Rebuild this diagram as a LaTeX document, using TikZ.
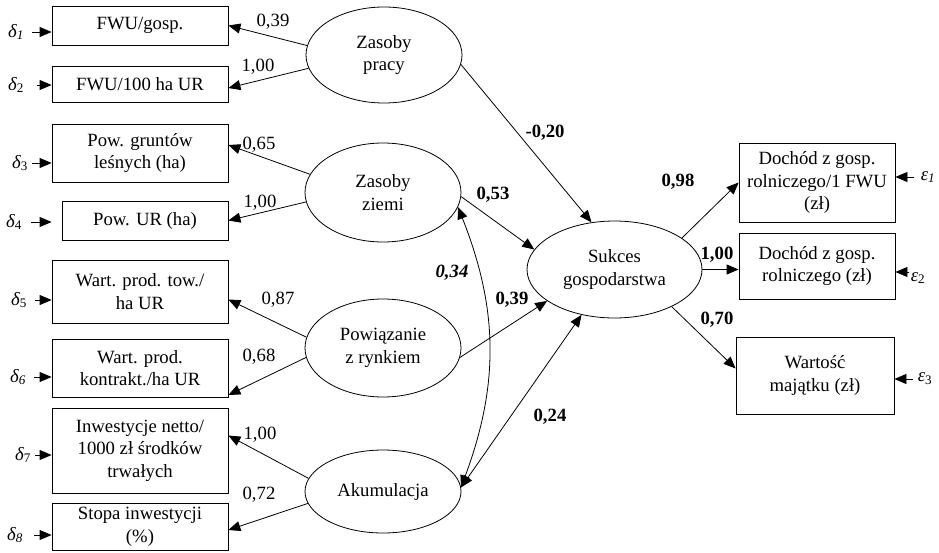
\documentclass[tikz,border=0pt]{standalone}
\usepackage{fontspec}
\setmainfont{Liberation Serif}
\usetikzlibrary{shapes.geometric,arrows.meta}

\newcommand{\diagfont}{\fontsize{18.7}{22.5}\selectfont}

\tikzset{
	obs/.style={draw, rectangle, align=center, inner sep=0pt},
	lat/.style={draw, ellipse, align=center, inner sep=0pt, minimum width=156pt},
	err/.style={inner sep=1pt},
	wt/.style={inner sep=0pt},
	pth/.style={inner sep=0pt, font=\diagfont\bfseries}
}

\begin{document}
\begin{tikzpicture}[x=1pt, y=-1pt, line width=0.8pt, >={Triangle[length=12pt,width=10pt]},
	font=\diagfont]
	\useasboundingbox (0,0) rectangle (939,552);

	% observed variables, left
	\node[obs, minimum width=176pt, minimum height=39pt] (fwug) at (140,25.5) {FWU/gosp.};
	\node[obs, minimum width=176pt, minimum height=36pt] (fwuha) at (140,84) {FWU/100 ha UR};
	\node[obs, minimum width=176pt, minimum height=58pt] (las) at (140,153) {Pow. gruntów\\leśnych (ha)};
	\node[obs, minimum width=166pt, minimum height=39pt] (ur) at (145,220.5) {Pow. UR (ha)};
	\node[obs, minimum width=176pt, minimum height=63pt] (tow) at (140,291.5) {Wart. prod. tow./\\ha UR};
	\node[obs, minimum width=176pt, minimum height=58pt] (kon) at (140,368) {Wart. prod.\\kontrakt./ha UR};
	\node[obs, minimum width=176pt, minimum height=85pt] (inw) at (140,450.5) {Inwestycje netto/\\1000 zł środków\\trwałych};
	\node[obs, minimum width=176pt, minimum height=47pt] (sto) at (140,527) {Stopa inwestycji\\(\%)};

	% observed variables, right
	\node[obs, minimum width=156pt, minimum height=79pt] (doch1) at (817,182.5) {Dochód z gosp.\\rolniczego/1 FWU\\(zł)};
	\node[obs, minimum width=156pt, minimum height=66pt] (doch2) at (817,266) {Dochód z gosp.\\rolniczego (zł)};
	\node[obs, minimum width=158pt, minimum height=77pt] (maj) at (815,375.5) {Wartość\\majątku (zł)};

	% latent variables
	\node[lat, minimum height=96pt] (zp) at (384,55) {Zasoby\\pracy};
	\node[lat, minimum height=99pt] (zz) at (383,192.5) {Zasoby\\ziemi};
	\node[lat, minimum height=98pt] (pr) at (383,348) {Powiązanie\\z rynkiem};
	\node[lat, minimum height=83pt] (ak) at (383,491.5) {Akumulacja};
	\node[lat, minimum width=175pt, minimum height=97pt] (su) at (614.5,269.5) {Sukces\\gospodarstwa};

	% error terms
	\node[err] (d1) at (16,32) {\textit{δ}\textsubscript{\textit{1}}};
	\node[err] (d2) at (16,85) {\textit{δ}\textsubscript{2}};
	\node[err] (d3) at (20,163) {\textit{δ}\textsubscript{3}};
	\node[err] (d4) at (14,222) {\textit{δ}\textsubscript{4}};
	\node[err] (d5) at (19,300) {\textit{δ}\textsubscript{5}};
	\node[err] (d6) at (18,377) {\textit{δ}\textsubscript{\textit{6}}};
	\node[err] (d7) at (23,455) {\textit{δ}\textsubscript{7}};
	\node[err] (d8) at (15,535) {\textit{δ}\textsubscript{\textit{8}}};
	\node[err] (e1) at (928,177) {\textit{ε}\textsubscript{\textit{1}}};
	\node[err] (e2) at (918,278) {\textit{ε}\textsubscript{2}};
	\node[err] (e3) at (925,379) {\textit{ε}\textsubscript{3}};

	\draw[->, shorten <=7pt] (d1) -- (d1 -| fwug.west);
	\draw[->, shorten <=12pt] (d2) -- (d2 -| fwuha.west);
	\draw[->, shorten <=3pt] (d3) -- (d3 -| las.west);
	\draw[->, shorten <=8pt] (d4) -- (d4 -| fwug.west);
	\draw[->, shorten <=7pt] (d5) -- (d5 -| tow.west);
	\draw[->, shorten <=7pt] (d6) -- (d6 -| kon.west);
	\draw[->, shorten <=3pt] (d7) -- (d7 -| inw.west);
	\draw[->, shorten <=10pt] (d8) -- (d8 -| sto.west);
	\draw[->, shorten <=5pt] (e1) -- (e1 -| doch1.east);
	\draw[->] ([yshift=6pt]e2.west) -- ([yshift=6pt]e2.west -| doch2.east);
	\draw[->, shorten <=3pt] (e3) -- (e3 -| maj.east);

	% loadings
	\draw[->] (zp.173) -- (fwug.east);
	\draw[->] (zp.190) -- ([yshift=-4pt]fwuha.east);
	\draw[->] (zz.166) -- ([yshift=8pt]las.east);
	\draw[->] (zz.187) -- (ur.east);
	\draw[->] (pr.172) -- ([yshift=-8pt]tow.east);
	\draw[->] (pr.187) -- ([yshift=-27pt]kon.east);
	\draw[->] (ak.170) -- ([yshift=15pt]inw.east);
	\draw[->] (ak.189) -- ([yshift=-3pt]sto.east);

	\node[wt] (w1) at (273,22) {0,39};
	\node[wt] (w2) at (258,67) {1,00};
	\node[wt] (w3) at (259,145) {0,65};
	\node[wt] (w4) at (260,203) {1,00};
	\node[wt] (w5) at (278,300) {0,87};
	\node[wt] (w6) at (259,357) {0,68};
	\node[wt] (w7) at (260,435) {1,00};
	\node[wt] (w8) at (259,495) {0,72};

	% structural paths
	\draw[->] (zp.-7) -- (su.116);
	\draw[->] (zz.-3) -- (su.166);
	\draw[->] (pr.-7) -- (su.205);
	\draw[<->] (ak.3) -- (su.234);
	\draw[<->] (zz.-11) to[bend left=21] (ak.3);
	\draw[->] (su.25) -- (doch1.west);
	\draw[->] (su.east) -- (su.east -| doch2.west);
	\draw[->] (su.-33) -- ([yshift=7pt]maj.west);

	\node[pth] (p1) at (545,133) {-0,20};
	\node[pth] (p2) at (493,195) {0,53};
	\node[pth, font=\diagfont\bfseries\itshape] (p3) at (452,273) {0,34};
	\node[pth] (p4) at (512,300) {0,39};
	\node[pth] (p5) at (550,417) {0,24};
	\node[pth] (p6) at (678,182) {0,98};
	\node[pth] (p7) at (717,255) {1,00};
	\node[pth] (p8) at (717,320) {0,70};
\end{tikzpicture}
\end{document}
